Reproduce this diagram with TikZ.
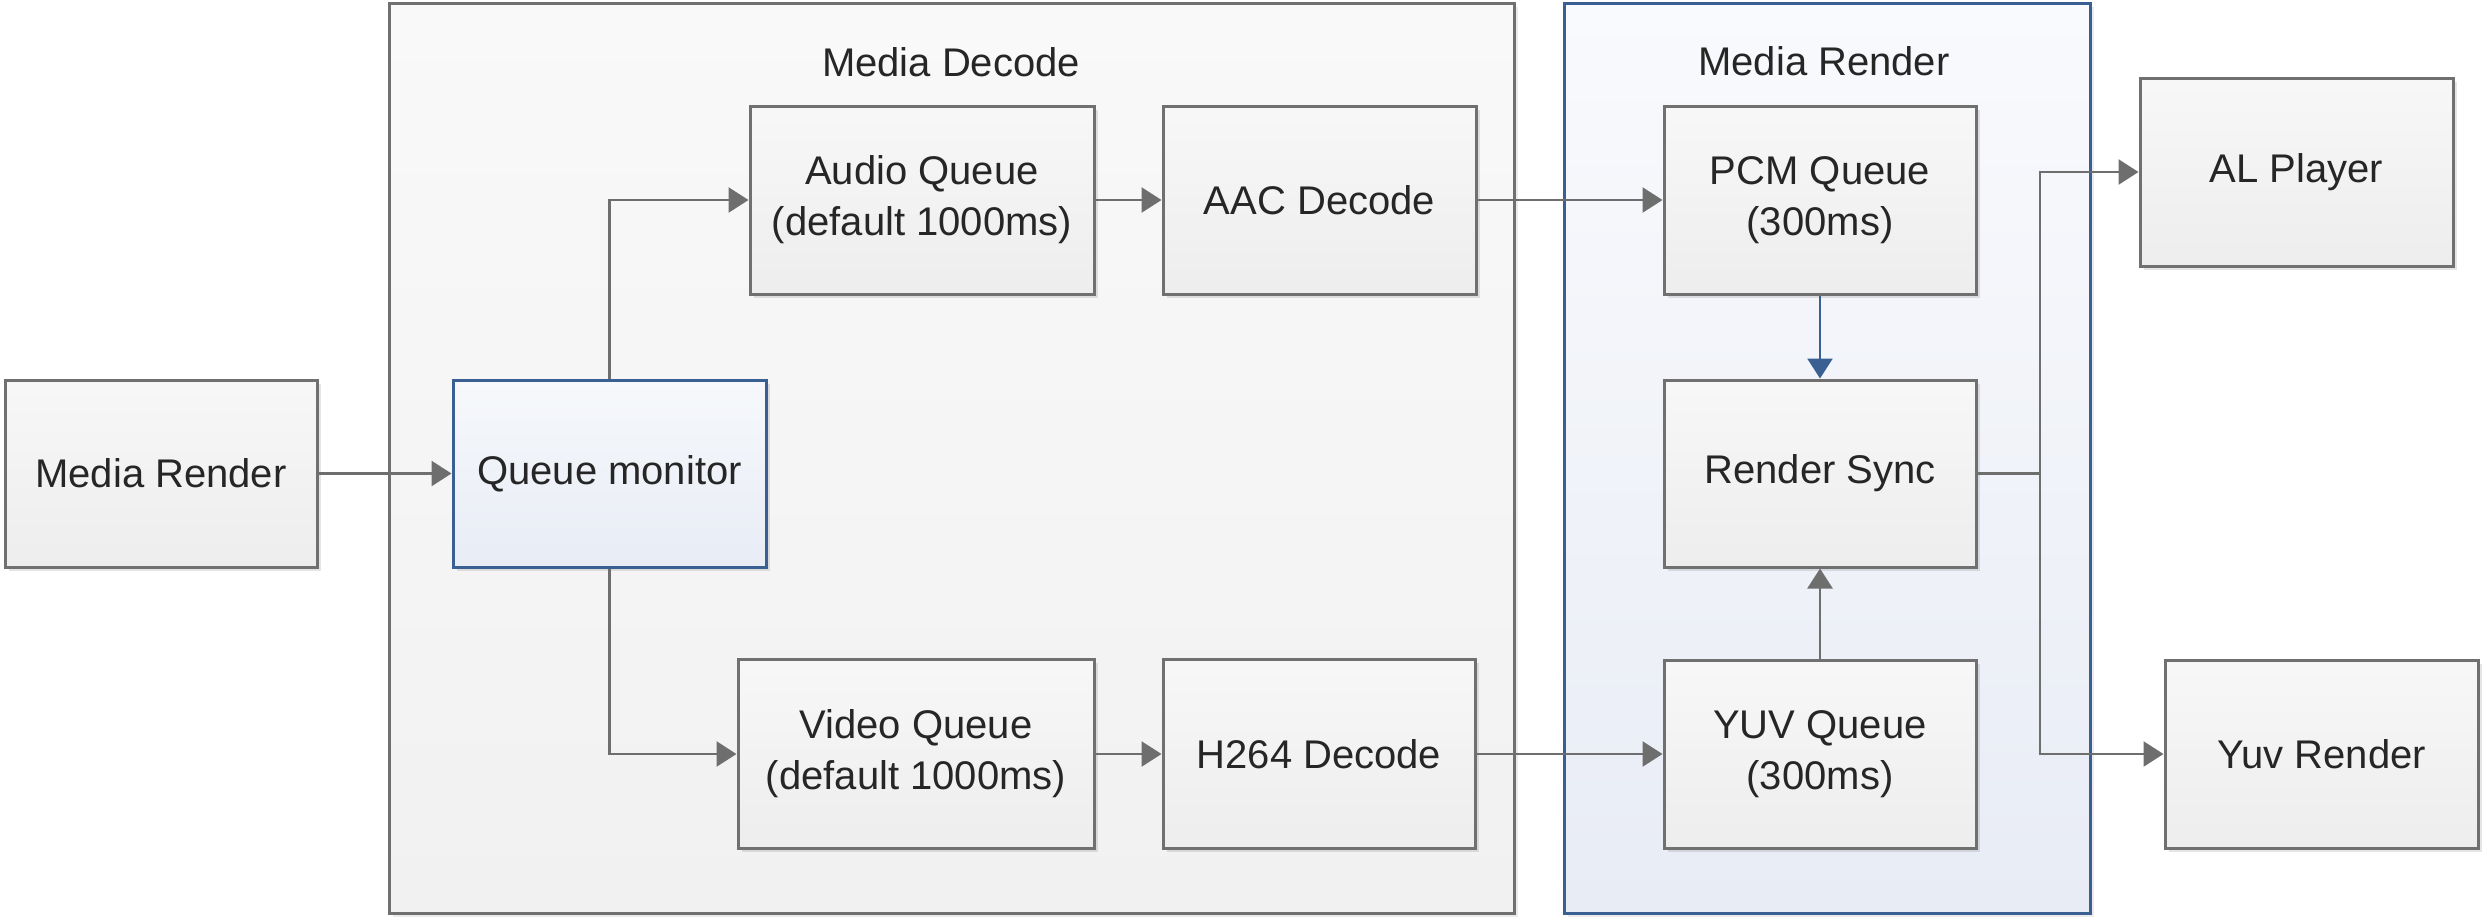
\documentclass[tikz,border=0pt]{standalone}
\usepackage{fontspec}
\setmainfont{Liberation Sans}
\usetikzlibrary{arrows.meta,shadows}
\definecolor{bordergray}{HTML}{707070}
\definecolor{linegray}{HTML}{6E6E6E}
\definecolor{bblue}{HTML}{3A5F93}
\definecolor{txt}{HTML}{262626}
\newcommand{\twolines}[2]{\raisebox{-2.5pt}{\begin{tabular}{@{}c@{}}#1\\#2\end{tabular}}}
\begin{document}
\begin{tikzpicture}[x=0.5pt,y=-0.5pt,
  every node/.style={text=txt, font=\fontsize{20}{25.5}\selectfont, align=center, inner sep=0pt},
  box/.style={draw=bordergray, line width=1.5pt, top color=white!97!black, bottom color=white!93!black,
    drop shadow={shadow xshift=1.8pt, shadow yshift=-1.8pt, fill=black, opacity=0.10}},
  bluebox/.style={draw=bblue, line width=1.5pt, top color={rgb,255:red,246;green,248;blue,251}, bottom color={rgb,255:red,232;green,236;blue,245},
    drop shadow={shadow xshift=1.8pt, shadow yshift=-1.8pt, fill=black, opacity=0.10}},
  graycont/.style={draw=bordergray, line width=1.5pt, top color={rgb,255:red,249;green,249;blue,249}, bottom color={rgb,255:red,241;green,241;blue,241},
    drop shadow={shadow xshift=1.8pt, shadow yshift=-1.8pt, fill=black, opacity=0.08}},
  bluecont/.style={draw=bblue, line width=1.5pt, top color={rgb,255:red,249;green,250;blue,253}, bottom color={rgb,255:red,232;green,236;blue,245},
    drop shadow={shadow xshift=1.8pt, shadow yshift=-1.8pt, fill=black, opacity=0.08}},
  conn/.style={draw=linegray, line width=1.3pt, -{Triangle[length=10pt,width=12.5pt]}},
  plainconn/.style={draw=linegray, line width=1.3pt},
  blueconn/.style={draw=bblue, line width=1.3pt, -{Triangle[length=10pt,width=12.5pt]}},
]
\useasboundingbox (0,0) rectangle (2485,922);
% containers
\node[graycont, minimum width=562.5pt, minimum height=455pt] (md) at (951.5,458) {};
\node[bluecont, minimum width=263pt, minimum height=455pt] (mrc) at (1827,458) {};
\node (mdt) at (951,62) {Media Decode};
\node (mrt) at (1824,61) {Media Render};
% boxes
\node[box, minimum width=156pt, minimum height=93.5pt] (mr) at (161,473.5) {Media Render};
\node[bluebox, minimum width=156.5pt, minimum height=93.5pt] (qm) at (609.5,473.5) {Queue monitor};
\node[box, minimum width=172pt, minimum height=94pt] (aq) at (922,200) {\twolines{Audio Queue}{(default 1000ms)}};
\node[box, minimum width=156.5pt, minimum height=94pt] (aac) at (1319.5,200) {AAC Decode};
\node[box, minimum width=178pt, minimum height=94.5pt] (vq) at (916,754) {\twolines{Video Queue}{(default 1000ms)}};
\node[box, minimum width=156pt, minimum height=94.5pt] (h264) at (1319,754) {H264 Decode};
\node[box, minimum width=156pt, minimum height=94pt] (pcm) at (1820,200) {\twolines{PCM Queue}{(300ms)}};
\node[box, minimum width=156pt, minimum height=93.5pt] (rs) at (1820,473.5) {Render Sync};
\node[box, minimum width=156pt, minimum height=94pt] (yuv) at (1820,754) {\twolines{YUV Queue}{(300ms)}};
\node[box, minimum width=156.5pt, minimum height=94pt] (al) at (2296.5,172) {AL Player};
\node[box, minimum width=156.5pt, minimum height=94pt] (yr) at (2321.5,754) {Yuv Render};
\coordinate (split) at (2040,473.5);
% connectors
\draw[conn] (mr.east) -- (qm.west);
\draw[conn] (qm.north) |- (aq.west);
\draw[conn] (qm.south) |- (vq.west);
\draw[conn] (aq.east) -- (aac.west);
\draw[conn] (vq.east) -- (h264.west);
\draw[conn] (aac.east) -- (pcm.west);
\draw[conn] (h264.east) -- (yuv.west);
\draw[blueconn] (pcm.south) -- (rs.north);
\draw[conn] (yuv.north) -- (rs.south);
\draw[plainconn] (rs.east) -- (split);
\draw[conn] (split) |- (al.west);
\draw[conn] (split) |- (yr.west);
\end{tikzpicture}
\end{document}
